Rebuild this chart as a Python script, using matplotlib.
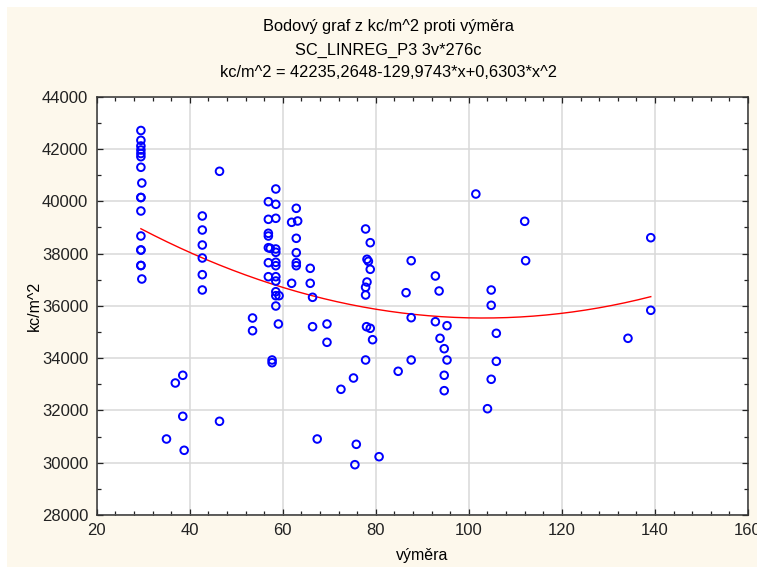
import numpy as np
import matplotlib
matplotlib.use("Agg")
import matplotlib.pyplot as plt
from matplotlib.patches import Rectangle
from matplotlib.ticker import MultipleLocator

plt.rcParams["font.family"] = ["Liberation Sans", "DejaVu Sans"]

# data (výměra, kc/m^2)
vymera = [
    # ~29.5 group
    29.5, 29.5, 29.5, 29.5, 29.5, 29.5, 29.5, 29.7, 29.5, 29.5, 29.5, 29.5,
    29.5, 29.5, 29.5, 29.5, 29.7,
    # 35-47
    38.5, 36.9, 38.5, 35.0, 38.8, 46.4, 46.4,
    42.7, 42.7, 42.7, 42.7, 42.7, 42.7,
    53.5, 53.5,
    # 57-60
    58.5, 56.9, 58.5, 56.9, 58.5, 56.9, 56.9, 56.9, 57.3, 58.5, 58.5,
    56.9, 58.5, 58.5, 56.9, 58.5, 58.5, 58.5, 58.5, 59.2, 58.5, 59.05,
    57.7, 57.7,
    # 62-67
    62.9, 61.9, 63.2, 62.9, 62.9, 62.9, 62.9, 61.9, 65.9, 65.9, 66.4,
    66.4, 67.4,
    # 69-81
    69.5, 69.5, 72.5, 75.2, 75.8, 75.5, 80.7,
    77.8, 78.8, 78.1, 78.4, 78.8, 78.1, 77.8, 77.8, 78.0, 78.8, 79.3, 77.8,
    # 84-96
    87.6, 86.5, 87.6, 87.6, 84.8,
    92.8, 93.6, 92.8, 95.3, 93.8, 94.7, 95.3, 94.7, 94.7,
    # 100+
    101.5, 104.8, 104.8, 105.9, 105.9, 104.8, 104.0,
    112.0, 112.2, 139.1, 139.1, 134.2,
]
kc_m2 = [
    42707, 42332, 42114, 41961, 41827, 41705, 41300, 40699, 40144, 40144, 39628, 38672,
    38136, 38136, 37543, 37543, 37027,
    33344, 33049, 31775, 30907, 30475, 41147, 31584,
    39437, 38901, 38327, 37830, 37192, 36607,
    35535, 35049,
    40470, 39984, 39884, 39310, 39349, 38775, 38672, 38224, 38201, 38175, 38048,
    37651, 37666, 37536, 37115, 37115, 36950, 36541, 36388, 36388, 35994, 35306,
    33929, 33826,
    39731, 39196, 39246, 38584, 38033, 37651, 37536, 36863, 37436, 36863, 36327,
    35203, 30907,
    35306, 34606, 32808, 33240, 30704, 29924, 30230,
    38940, 38416, 37781, 37704, 37398, 36912, 36710, 36415, 35203, 35141, 34705, 33929,
    37727, 36503, 35547, 33929, 33497,
    37142, 36568, 35394, 35241, 34759, 34361, 33929, 33344, 32755,
    40278, 36606, 36021, 34950, 33879, 33191, 32066,
    39234, 37727, 38607, 35830, 34759,
]

# fitted quadratic from the chart subtitle
coef = [0.6303, -129.9743, 42235.2648]

x_ticks = [20, 40, 60, 80, 100, 120, 140, 160]
y_ticks = [28000, 30000, 32000, 34000, 36000, 38000, 40000, 42000, 44000]

cream = "#FDF8EC"
fig = plt.figure(figsize=(7.57, 5.67), dpi=100, facecolor="white")
fig.patches.append(Rectangle((7 / 757, 0), 1, 1 - 7 / 567, transform=fig.transFigure,
                             facecolor=cream, edgecolor="none", zorder=-10))

ax = fig.add_axes([96.7 / 757, 1 - 515 / 567, (748 - 96.7) / 757, (515 - 96.7) / 567])
ax.set_facecolor("white")

ax.scatter(vymera, kc_m2, s=30, facecolors="none", edgecolors="#0000FF",
           linewidths=1.4, zorder=3)

xs = np.linspace(min(vymera), max(vymera), 40)
ax.plot(xs, np.polyval(coef, xs), color="#FF0000", lw=1.0, zorder=2)

ax.set_xlim(20, 160)
ax.set_ylim(28000, 44000)
ax.set_xticks(x_ticks)
ax.set_yticks(y_ticks)
ax.xaxis.set_minor_locator(MultipleLocator(4))
ax.yaxis.set_minor_locator(MultipleLocator(1000))
ax.grid(True, which="major", color="#D9D9D9", lw=1.1, zorder=0)
ax.set_axisbelow(True)
ax.tick_params(which="both", direction="in", top=True, right=True,
               labelsize=12, colors="#222222", width=0.9)
ax.tick_params(which="major", length=4, pad=6)
ax.tick_params(which="minor", length=3)
for s in ax.spines.values():
    s.set_color("#333333")
    s.set_linewidth(1.1)

ax.set_xlabel("výměra", fontsize=11.5, labelpad=7)
ax.set_ylabel("kc/m^2", fontsize=11.5, labelpad=0)

tx = 388 / 757
fig.text(tx, 1 - 27 / 567, "Bodový graf z kc/m^2 proti výměra", ha="center", va="center", fontsize=11.8)
fig.text(tx, 1 - 50 / 567, "SC_LINREG_P3 3v*276c", ha="center", va="center", fontsize=11.8)
fig.text(tx, 1 - 73 / 567, "kc/m^2 = 42235,2648-129,9743*x+0,6303*x^2", ha="center", va="center", fontsize=11.8)

fig.savefig("out.png", dpi=100, facecolor=fig.get_facecolor())
